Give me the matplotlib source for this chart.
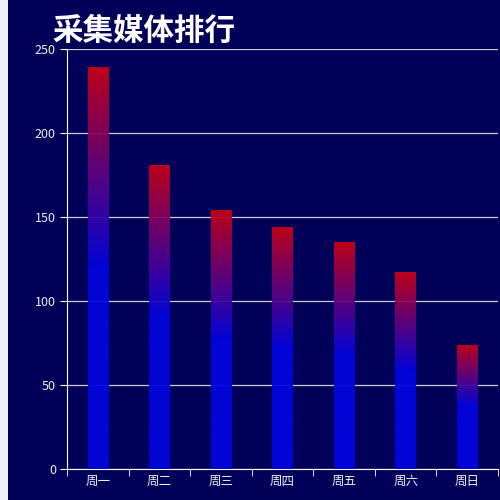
import numpy as np
import matplotlib
matplotlib.use('Agg')
import matplotlib.pyplot as plt
from matplotlib.colors import LinearSegmentedColormap
from matplotlib.patches import Rectangle

plt.rcParams['font.family'] = ['Noto Sans CJK SC', 'DejaVu Sans']

days = ['周一', '周二', '周三', '周四', '周五', '周六', '周日']
counts = [239, 181, 154, 144, 135, 117, 74]
title = '采集媒体排行'

bg = '#000058'
fig = plt.figure(figsize=(5, 5), dpi=100, facecolor=bg)
# light strip on the left edge
fig.patches.append(Rectangle((0, 0), 0.016, 1, transform=fig.transFigure,
                             facecolor='#f0f2f7', edgecolor='none', zorder=0))

ax = fig.add_axes([0.134, 0.062, 0.862, 0.840])
ax.set_facecolor(bg)

x = np.arange(len(days))
bars = ax.bar(x, counts, width=0.33, facecolor='none', edgecolor='none', zorder=3)

# red at the top, blue from the middle down
cmap = LinearSegmentedColormap.from_list('rb', [(0, '#0005e0'), (0.5, '#0005e0'), (1, '#cc0015')])
grad = np.linspace(0, 1, 256).reshape(-1, 1)
for b in bars:
    x0, w, h = b.get_x(), b.get_width(), b.get_height()
    im = ax.imshow(grad, cmap=cmap, aspect='auto', origin='lower',
                   extent=[x0, x0 + w, 0, h], zorder=3, alpha=0.93)
    im.set_clip_path(b)

ax.set_xlim(-0.5, len(days) - 0.5)
ax.set_ylim(0, 250)
ax.set_yticks([0, 50, 100, 150, 200, 250])
ax.set_xticks(x)
ax.set_xticklabels(days)
ax.set_xticks(np.arange(-0.5, len(days), 1), minor=True)

ax.grid(axis='y', color='#cccccc', linewidth=0.9, zorder=1)
ax.set_axisbelow(True)
for s in ['top', 'right']:
    ax.spines[s].set_visible(False)
ax.spines['left'].set_color('white')
ax.spines['bottom'].set_color('white')
ax.tick_params(axis='y', colors='white', labelcolor='#eeeeee', labelsize=9, length=5, pad=3)
ax.tick_params(axis='x', which='major', length=0, labelcolor='#eeeeee', labelsize=9, pad=4)
ax.tick_params(axis='x', which='minor', length=5, color='white')

fig.text(0.104, 0.939, title, color='white', fontsize=22, fontweight='bold', va='center', ha='left')

fig.savefig('out.png', dpi=100, facecolor=bg)
